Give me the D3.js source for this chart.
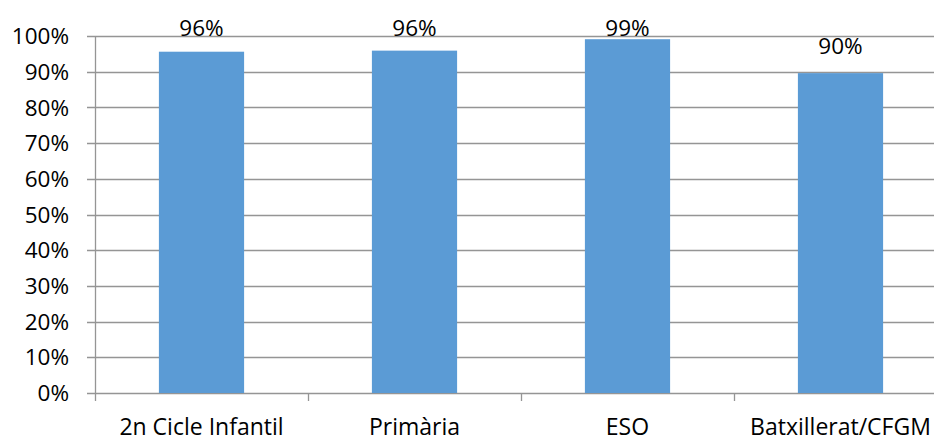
<!DOCTYPE html>
<html>
<head>
<meta charset="utf-8">
<script src="https://cdn.jsdelivr.net/npm/d3@7"></script>
<style>
  html, body { margin: 0; padding: 0; background: #fff; overflow: hidden; }
  svg { display: block; }
  text { font-family: "Open Sans", "Noto Sans", sans-serif; fill: #000; }
</style>
</head>
<body>
<svg id="chart" width="934" height="442"></svg>
<script>
const categories = ["2n Cicle Infantil", "Primària", "ESO", "Batxillerat/CFGM"];
const values = [0.956, 0.959, 0.991, 0.896];
const valueLabels = ["96%", "96%", "99%", "90%"];
const yTicks = [0, 0.1, 0.2, 0.3, 0.4, 0.5, 0.6, 0.7, 0.8, 0.9, 1.0];

const svg = d3.select("#chart");
const mLeft = 95, mRight = 947, mTop = 36, mBottom = 393;

const x = d3.scaleBand().domain(categories).range([mLeft, mRight])
  .paddingInner(0.6).paddingOuter(0.3);
const y = d3.scaleLinear().domain([0, 1]).range([mBottom, mTop]);

const gridColor = "#959595";

// gridlines
svg.append("g").selectAll("line").data(yTicks).join("line")
  .attr("x1", mLeft - 8).attr("x2", 934)
  .attr("y1", d => Math.round(y(d)) + 0.5).attr("y2", d => Math.round(y(d)) + 0.5)
  .attr("stroke", gridColor).attr("stroke-width", 1.3);

// y tick labels
svg.append("g").selectAll("text").data(yTicks).join("text")
  .attr("x", 69).attr("y", d => y(d)).attr("dy", "0.36em")
  .attr("text-anchor", "end").attr("font-size", 22.5)
  .text(d => d3.format(".0%")(d));

// y axis line
svg.append("line").attr("x1", mLeft + 0.5).attr("x2", mLeft + 0.5)
  .attr("y1", mTop).attr("y2", mBottom + 1).attr("stroke", gridColor).attr("stroke-width", 1.3);

// category boundary ticks
const step = x.step();
const bounds = d3.range(categories.length + 1).map(i => mLeft + i * step);
svg.append("g").selectAll("line").data(bounds).join("line")
  .attr("x1", d => Math.round(d) + 0.5).attr("x2", d => Math.round(d) + 0.5)
  .attr("y1", mBottom).attr("y2", mBottom + 8)
  .attr("stroke", gridColor).attr("stroke-width", 1.3);

// bars
svg.append("g").selectAll("rect").data(values).join("rect")
  .attr("x", (d, i) => x(categories[i]))
  .attr("width", x.bandwidth())
  .attr("y", d => y(d))
  .attr("height", d => mBottom - y(d))
  .attr("fill", "#5b9bd5");

// value labels
svg.append("g").selectAll("text").data(values).join("text")
  .attr("x", (d, i) => x(categories[i]) + x.bandwidth() / 2)
  .attr("y", d => Math.max(y(d) - 19, mTop))
  .attr("text-anchor", "middle").attr("font-size", 22.5)
  .text((d, i) => valueLabels[i]);

// category labels
svg.append("g").selectAll("text").data(categories).join("text")
  .attr("x", d => x(d) + x.bandwidth() / 2)
  .attr("y", 435)
  .attr("text-anchor", "middle").attr("font-size", 23)
  .text(d => d);
</script>
</body>
</html>
